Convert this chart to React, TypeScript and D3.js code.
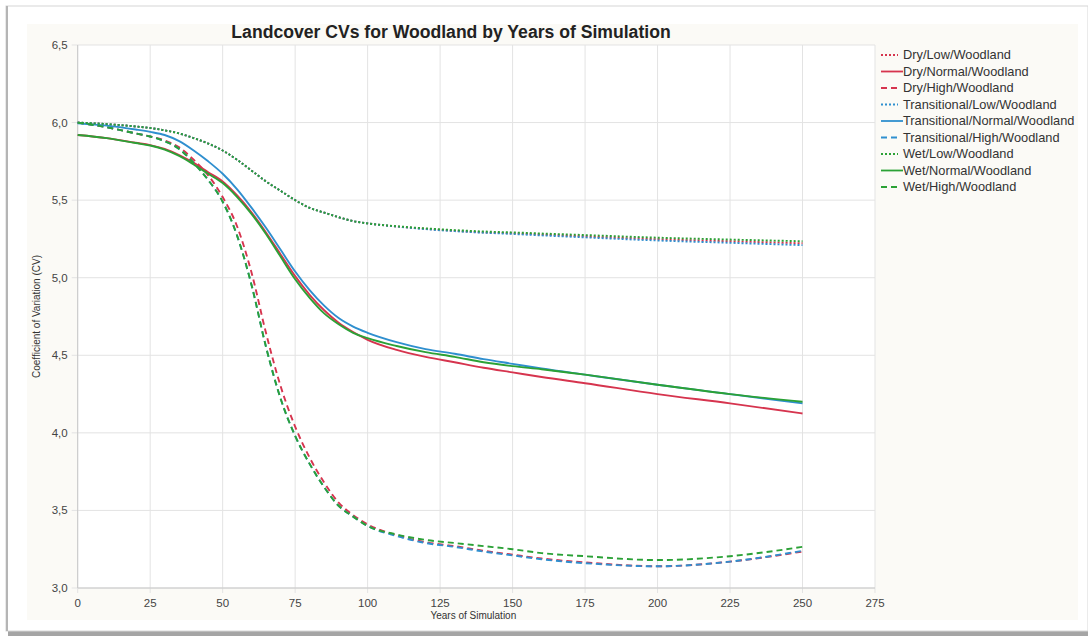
import * as d3 from 'd3';

// years sampled along the curves
const years = [0, 10, 20, 25, 30, 35, 40, 45, 50, 55, 60, 65, 70, 75, 80, 85, 90, 95, 100, 110, 120, 130, 140, 150, 160, 175, 200, 225, 250];

const dryLow = [6.0, 5.99, 5.975, 5.965, 5.95, 5.93, 5.9, 5.865, 5.82, 5.76, 5.69, 5.62, 5.56, 5.5, 5.45, 5.42, 5.39, 5.365, 5.35, 5.33, 5.315, 5.302, 5.292, 5.286, 5.278, 5.266, 5.248, 5.235, 5.222];
const dryNormal = [5.92, 5.9, 5.87, 5.855, 5.83, 5.79, 5.74, 5.68, 5.62, 5.53, 5.42, 5.29, 5.15, 5.01, 4.89, 4.79, 4.71, 4.65, 4.6, 4.535, 4.49, 4.455, 4.42, 4.39, 4.36, 4.32, 4.25, 4.19, 4.125];
const dryHigh = [6.0, 5.97, 5.93, 5.91, 5.885, 5.84, 5.76, 5.66, 5.52, 5.33, 5.03, 4.64, 4.3, 4.04, 3.84, 3.68, 3.55, 3.47, 3.41, 3.34, 3.295, 3.27, 3.24, 3.215, 3.19, 3.165, 3.14, 3.17, 3.235];
const transLow = [6.0, 5.99, 5.975, 5.965, 5.95, 5.93, 5.9, 5.865, 5.82, 5.76, 5.69, 5.62, 5.56, 5.5, 5.45, 5.42, 5.39, 5.365, 5.35, 5.33, 5.313, 5.3, 5.29, 5.282, 5.273, 5.26, 5.24, 5.225, 5.21];
const transNormal = [5.995, 5.98, 5.955, 5.94, 5.92, 5.88, 5.82, 5.75, 5.67, 5.57, 5.45, 5.32, 5.18, 5.04, 4.92, 4.82, 4.74, 4.685, 4.645, 4.585, 4.54, 4.51, 4.475, 4.445, 4.415, 4.375, 4.31, 4.25, 4.19];
const transHigh = [6.0, 5.97, 5.93, 5.91, 5.88, 5.83, 5.74, 5.63, 5.49, 5.27, 4.95, 4.55, 4.22, 3.98, 3.8, 3.65, 3.53, 3.46, 3.4, 3.335, 3.29, 3.265, 3.235, 3.21, 3.185, 3.16, 3.14, 3.17, 3.24];
const wetLow = [6.0, 5.99, 5.975, 5.965, 5.95, 5.93, 5.9, 5.865, 5.82, 5.76, 5.69, 5.62, 5.56, 5.5, 5.45, 5.42, 5.39, 5.365, 5.35, 5.332, 5.318, 5.307, 5.298, 5.292, 5.285, 5.275, 5.258, 5.246, 5.235];
const wetNormal = [5.92, 5.9, 5.868, 5.852, 5.826, 5.785, 5.73, 5.67, 5.61, 5.52, 5.41, 5.28, 5.135, 4.99, 4.87, 4.77, 4.7, 4.645, 4.61, 4.56, 4.52, 4.49, 4.455, 4.43, 4.41, 4.375, 4.31, 4.25, 4.2];
const wetHigh = [6.0, 5.97, 5.93, 5.91, 5.88, 5.83, 5.74, 5.63, 5.49, 5.27, 4.95, 4.55, 4.22, 3.98, 3.8, 3.65, 3.53, 3.46, 3.4, 3.345, 3.31, 3.29, 3.27, 3.25, 3.225, 3.205, 3.18, 3.205, 3.265];

const seriesNames = [
  'Dry/Low/Woodland', 'Dry/Normal/Woodland', 'Dry/High/Woodland',
  'Transitional/Low/Woodland', 'Transitional/Normal/Woodland', 'Transitional/High/Woodland',
  'Wet/Low/Woodland', 'Wet/Normal/Woodland', 'Wet/High/Woodland',
];
const seriesValues = [dryLow, dryNormal, dryHigh, transLow, transNormal, transHigh, wetLow, wetNormal, wetHigh];

const xTicks = [0, 25, 50, 75, 100, 125, 150, 175, 200, 225, 250, 275];
const yTicks = [3.0, 3.5, 4.0, 4.5, 5.0, 5.5, 6.0, 6.5];

const colors: Record<string, string> = { Dry: '#d6344e', Transitional: '#2f8fcf', Wet: '#2ba136' };
const dashes: Record<string, string> = { Low: '2,2', Normal: 'none', High: '6,4' };

const W = 1088;
const H = 638;
const FONT = '"Liberation Sans", Arial, Helvetica, sans-serif';

const App = () => {
  const x = d3.scaleLinear().domain([0, 275]).range([77.7, 875]);
  const y = d3.scaleLinear().domain([3, 6.5]).range([588, 45]);
  const fmt = (v: number) => d3.format('.1f')(v).replace('.', ',');

  const line = d3
    .line<number>()
    .x((_, i) => x(years[i]))
    .y((v) => y(v))
    .curve(d3.curveMonotoneX);

  return (
    <svg width={W} height={H} style={{ position: 'absolute', left: 0, top: 0, fontFamily: FONT }}>
      {/* card frame */}
      <rect x={0} y={0} width={W} height={H} fill='#ffffff' />
      <rect x={8} y={630} width={1080} height={6} fill='#8f8f8f' opacity={0.8} />
      <rect x={6} y={6} width={1082} height={625} fill='#ffffff' stroke='#d6d6d6' strokeWidth={1} />
      <rect x={6} y={6} width={2} height={625} fill='#b5b5b5' />
      <rect x={27} y={24} width={1051} height={596} fill='#fbfaf6' />

      {/* plot area */}
      <rect x={x(0)} y={y(6.5)} width={x(275) - x(0)} height={y(3) - y(6.5)} fill='#ffffff' />
      {xTicks.map((t) => (
        <line key={'gx' + t} x1={x(t)} x2={x(t)} y1={y(6.5)} y2={y(3) + 5} stroke='#e3e3e3' strokeWidth={1} />
      ))}
      {yTicks.map((t) => (
        <line key={'gy' + t} x1={x(0) - 6} x2={x(275)} y1={y(t)} y2={y(t)} stroke='#e3e3e3' strokeWidth={1} />
      ))}
      <line x1={x(0)} x2={x(0)} y1={y(6.5)} y2={y(3)} stroke='#c8c8c8' />
      <line x1={x(0)} x2={x(275)} y1={y(3)} y2={y(3)} stroke='#c8c8c8' />

      {yTicks.map((t) => (
        <text key={'ly' + t} x={x(0) - 10} y={y(t)} dy='0.35em' textAnchor='end' fontSize={11.5} fill='#444'>
          {fmt(t)}
        </text>
      ))}
      {xTicks.map((t) => (
        <text key={'lx' + t} x={x(t)} y={y(3) + 15} dy='0.35em' textAnchor='middle' fontSize={11.5} fill='#444'>
          {t}
        </text>
      ))}

      <text x={x(137.5) - 3} y={615} dy='0.35em' textAnchor='middle' fontSize={10} fill='#333'>
        Years of Simulation
      </text>
      <text
        transform={`translate(36, ${(y(3) + y(6.5)) / 2}) rotate(-90)`}
        textAnchor='middle'
        dy='0.35em'
        fontSize={10}
        fill='#333'
      >
        Coefficient of Variation (CV)
      </text>

      <text x={451} y={32} dy='0.35em' textAnchor='middle' fontSize={17.6} fontWeight='bold' fill='#222'>
        Landcover CVs for Woodland by Years of Simulation
      </text>

      {/* series */}
      {seriesNames.map((name, i) => {
        const [region, level] = name.split('/');
        return (
          <path
            key={name}
            d={line(seriesValues[i]) || ''}
            fill='none'
            stroke={colors[region]}
            strokeWidth={1.9}
            strokeDasharray={dashes[level]}
          />
        );
      })}

      {/* legend */}
      {seriesNames.map((name, i) => {
        const [region, level] = name.split('/');
        const ly = 55 + i * 16.5;
        return (
          <g key={'lg' + name}>
            <line
              x1={881}
              x2={level === 'Normal' ? 903 : 898}
              y1={ly}
              y2={ly}
              stroke={colors[region]}
              strokeWidth={1.8}
              strokeDasharray={dashes[level]}
            />
            <text x={903} y={ly} dy='0.35em' fontSize={12.8} fill='#333'>
              {name}
            </text>
          </g>
        );
      })}
    </svg>
  );
};

export default App;
